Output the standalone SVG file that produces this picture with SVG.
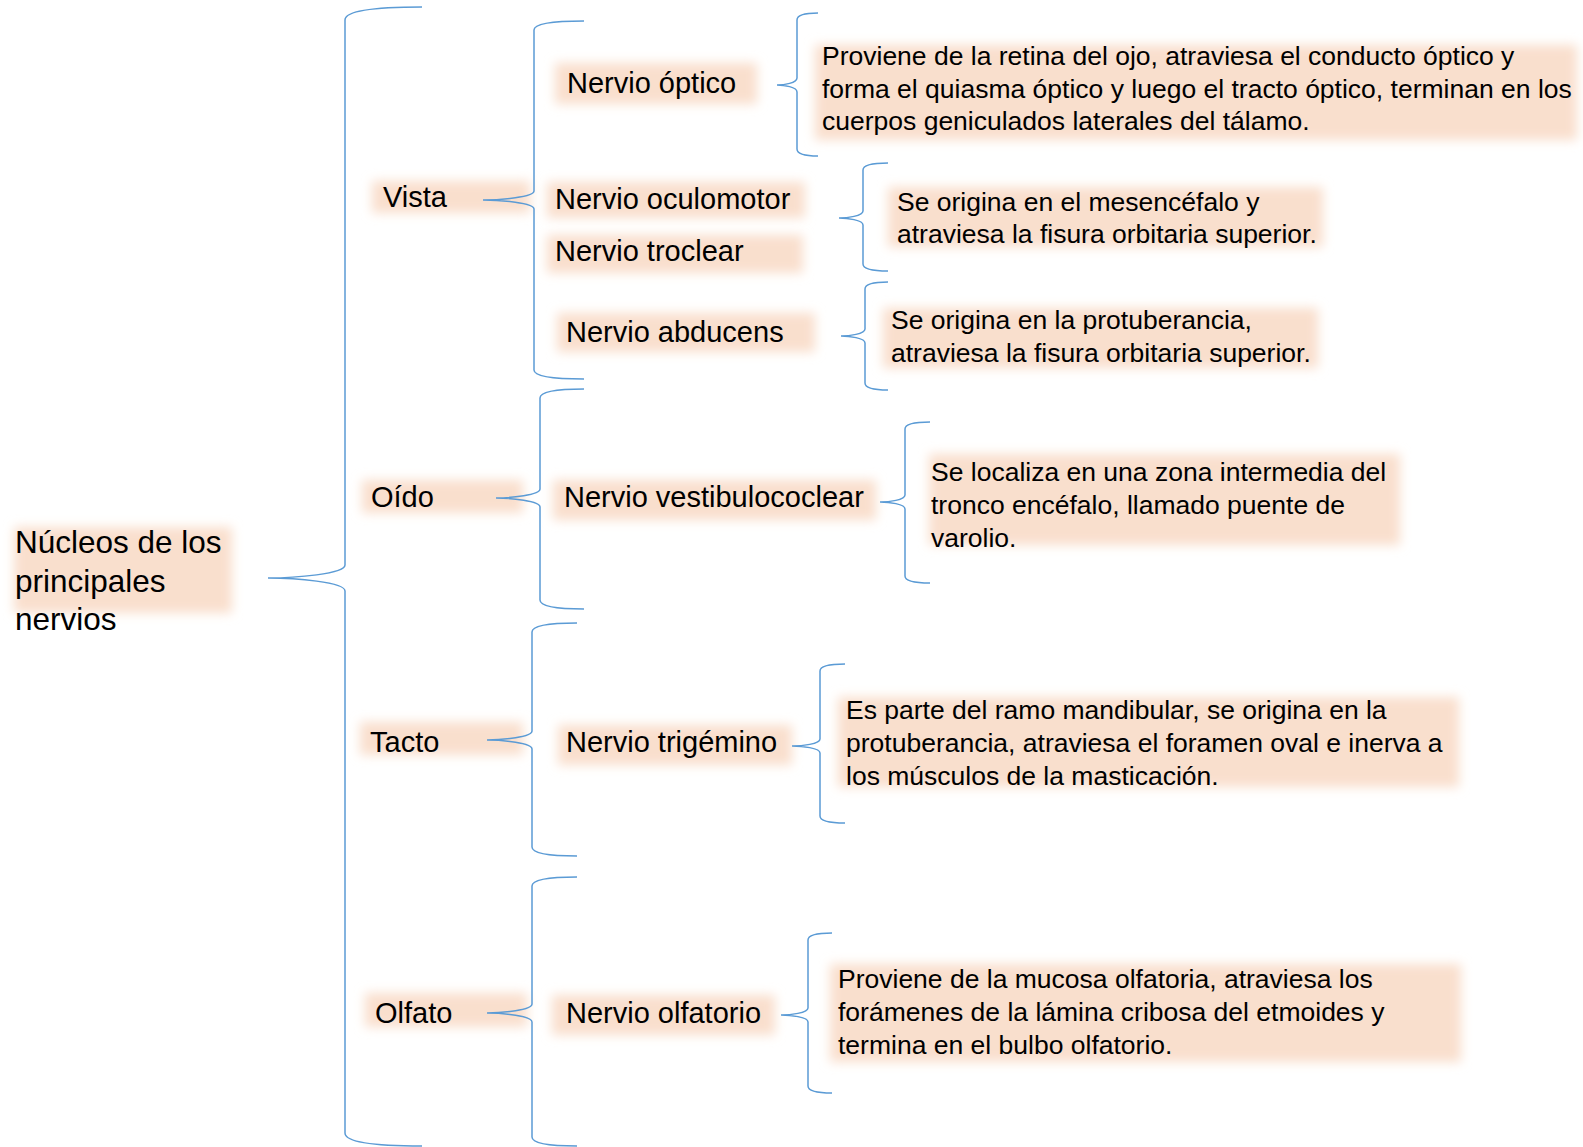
<svg xmlns="http://www.w3.org/2000/svg" width="1583" height="1147" viewBox="0 0 1583 1147">
<style>
text{font-family:"Liberation Sans",Arial,sans-serif;fill:#000}
.t{font-size:31.5px}
.n{font-size:29px}
.d{font-size:26.5px}
.bg{fill:#f9dfcd;filter:url(#soft)}
.br{fill:none;stroke:#5b9bd5;stroke-width:1.5}
</style>
<defs>
<filter id="soft" x="-20%" y="-50%" width="140%" height="200%"><feGaussianBlur stdDeviation="5.5"/></filter>
</defs>
<rect width="1583" height="1147" fill="#fff"/>
<g id="root">
<rect class="bg" x="14" y="527" width="218" height="86"/>
<text class="t" x="15"><tspan x="15" y="553">Núcleos de los</tspan><tspan x="15" y="592">principales</tspan><tspan x="15" y="630">nervios</tspan></text>
</g>
<g id="vista"><rect class="bg" x="372" y="181" width="158" height="32"/><text class="n" x="383" y="207">Vista</text></g>
<g id="oido"><rect class="bg" x="362" y="480" width="161" height="33"/><text class="n" x="371" y="507">Oído</text></g>
<g id="tacto"><rect class="bg" x="360" y="722" width="163" height="33"/><text class="n" x="370" y="752">Tacto</text></g>
<g id="olfato"><rect class="bg" x="365" y="993" width="162" height="34"/><text class="n" x="375" y="1023">Olfato</text></g>
<g id="n-optico"><rect class="bg" x="555" y="63" width="202" height="41"/><text class="n" x="567" y="93">Nervio óptico</text></g>
<g id="n-oculomotor"><rect class="bg" x="547" y="182" width="258" height="36"/><text class="n" x="555" y="209">Nervio oculomotor</text></g>
<g id="n-troclear"><rect class="bg" x="547" y="235" width="256" height="38"/><text class="n" x="555" y="261">Nervio troclear</text></g>
<g id="n-abducens"><rect class="bg" x="557" y="313" width="258" height="39"/><text class="n" x="566" y="342">Nervio abducens</text></g>
<g id="n-vestibulococlear"><rect class="bg" x="553" y="480" width="323" height="40"/><text class="n" x="564" y="507">Nervio vestibulococlear</text></g>
<g id="n-trigemino"><rect class="bg" x="558" y="725" width="234" height="40"/><text class="n" x="566" y="752">Nervio trigémino</text></g>
<g id="n-olfatorio"><rect class="bg" x="552" y="995" width="223" height="40"/><text class="n" x="566" y="1023">Nervio olfatorio</text></g>
<g id="d-optico"><rect class="bg" x="815" y="45" width="762" height="95"/>
<text class="d"><tspan x="822" y="65">Proviene de la retina del ojo, atraviesa el conducto óptico y</tspan><tspan x="822" y="98">forma el quiasma óptico y luego el tracto óptico, terminan en los</tspan><tspan x="822" y="130">cuerpos geniculados laterales del tálamo.</tspan></text></g>
<g id="d-oculomotor"><rect class="bg" x="888" y="187" width="435" height="60"/>
<text class="d"><tspan x="897" y="211">Se origina en el mesencéfalo y</tspan><tspan x="897" y="243">atraviesa la fisura orbitaria superior.</tspan></text></g>
<g id="d-abducens"><rect class="bg" x="883" y="308" width="435" height="60"/>
<text class="d"><tspan x="891" y="329">Se origina en la protuberancia,</tspan><tspan x="891" y="362">atraviesa la fisura orbitaria superior.</tspan></text></g>
<g id="d-vestibulococlear"><rect class="bg" x="929" y="454" width="471" height="91"/>
<text class="d"><tspan x="931" y="481">Se localiza en una zona intermedia del</tspan><tspan x="931" y="514">tronco encéfalo, llamado puente de</tspan><tspan x="931" y="547">varolio.</tspan></text></g>
<g id="d-trigemino"><rect class="bg" x="838" y="697" width="621" height="90"/>
<text class="d"><tspan x="846" y="719">Es parte del ramo mandibular, se origina en la</tspan><tspan x="846" y="752">protuberancia, atraviesa el foramen oval e inerva a</tspan><tspan x="846" y="785">los músculos de la masticación.</tspan></text></g>
<g id="d-olfatorio"><rect class="bg" x="830" y="964" width="631" height="98"/>
<text class="d"><tspan x="838" y="988">Proviene de la mucosa olfatoria, atraviesa los</tspan><tspan x="838" y="1021">forámenes de la lámina cribosa del etmoides y</tspan><tspan x="838" y="1054">termina en el bulbo olfatorio.</tspan></text></g>
<g id="connectors">
<path class="br" d="M422,7 C372,7 345,11 345,20 L345,565 C345,574 295,578 268,578 C295,578 345,582 345,591 L345,1133 C345,1142 372,1146 422,1146"/>
<path class="br" d="M584,21 C551,21 534,24 534,30 L534,191 C534,197 501,200 483,200 C501,200 534,203 534,209 L534,370 C534,376 551,379 584,379"/>
<path class="br" d="M584,389 C555,389 540,392 540,398 L540,489 C540,495 511,498 496,498 C511,498 540,501 540,507 L540,600 C540,606 555,609 584,609"/>
<path class="br" d="M577,623 C548,623 532,626 532,632 L532,731 C532,737 503,740 487,740 C503,740 532,743 532,749 L532,847 C532,853 548,856 577,856"/>
<path class="br" d="M577,877 C548,877 532,880 532,886 L532,1004 C532,1010 503,1013 487,1013 C503,1013 532,1016 532,1022 L532,1137 C532,1143 548,1146 577,1146"/>
<path class="br" d="M818,13 C804,13 797,15 797,20 L797,78 C797,83 784,85 777,85 C784,85 797,87 797,92 L797,149 C797,154 804,156 818,156"/>
<path class="br" d="M888,163 C872,163 863,165 863,170 L863,211 C863,216 847,218 839,218 C847,218 863,220 863,225 L863,264 C863,269 872,271 888,271"/>
<path class="br" d="M888,282 C873,282 865,284 865,289 L865,329 C865,334 849,336 841,336 C849,336 865,338 865,343 L865,383 C865,388 873,390 888,390"/>
<path class="br" d="M930,422 C914,422 905,424 905,429 L905,495 C905,500 889,502 880,502 C889,502 905,504 905,509 L905,576 C905,581 914,583 930,583"/>
<path class="br" d="M845,664 C829,664 820,666 820,671 L820,739 C820,744 802,746 792,746 C802,746 820,748 820,753 L820,816 C820,821 829,823 845,823"/>
<path class="br" d="M832,933 C816,933 808,935 808,940 L808,1008 C808,1013 790,1015 781,1015 C790,1015 808,1017 808,1022 L808,1086 C808,1091 816,1093 832,1093"/>
</g>
</svg>
